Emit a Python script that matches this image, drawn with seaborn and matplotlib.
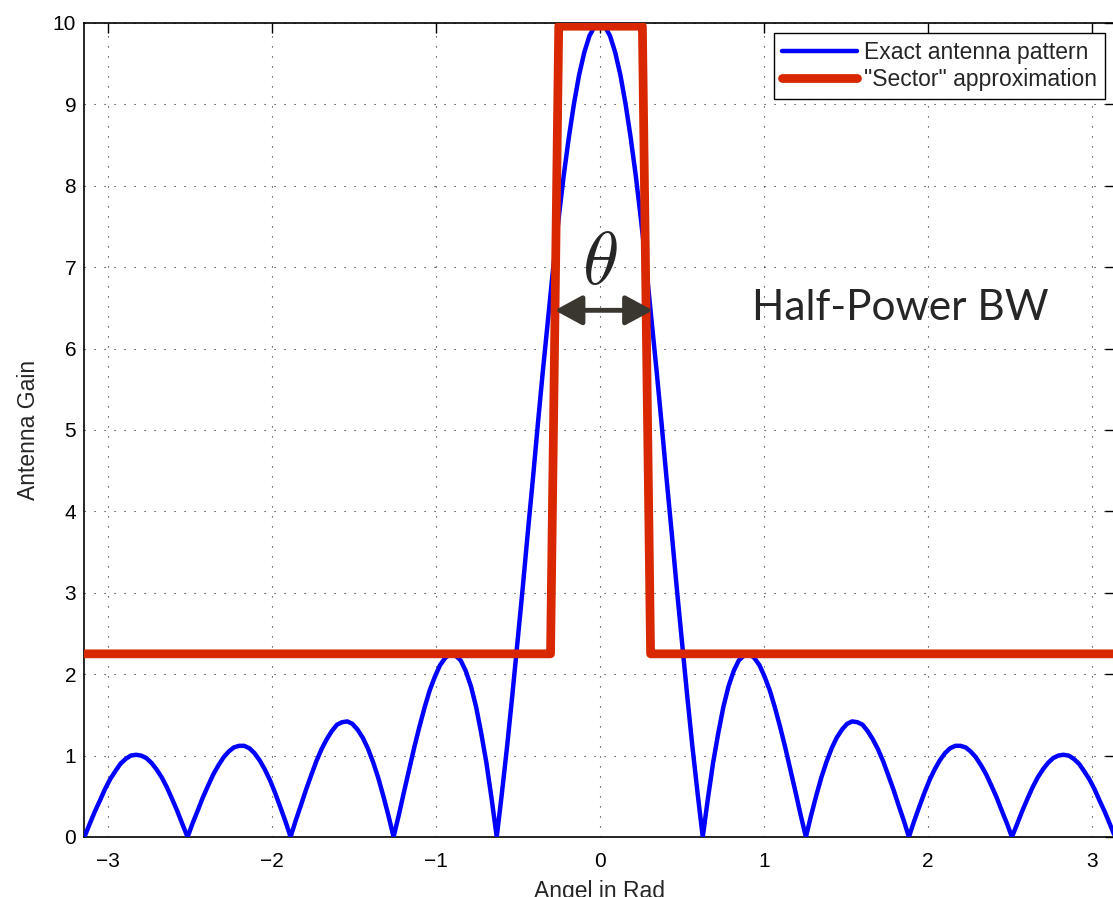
import numpy as np
import seaborn as sns
import matplotlib.pyplot as plt

# exact antenna pattern
angle = [-3.142, -3.110, -3.079, -3.047, -3.016, -2.985, -2.953, -2.922, -2.890, -2.859,
         -2.827, -2.796, -2.765, -2.733, -2.702, -2.670, -2.639, -2.608, -2.576, -2.545,
         -2.513, -2.482, -2.450, -2.419, -2.388, -2.356, -2.325, -2.293, -2.262, -2.231,
         -2.199, -2.168, -2.136, -2.105, -2.073, -2.042, -2.011, -1.979, -1.948, -1.916,
         -1.885, -1.854, -1.822, -1.791, -1.759, -1.728, -1.696, -1.665, -1.634, -1.602,
         -1.571, -1.539, -1.508, -1.477, -1.445, -1.414, -1.382, -1.351, -1.319, -1.288,
         -1.257, -1.225, -1.194, -1.162, -1.131, -1.100, -1.068, -1.037, -1.005, -0.974,
         -0.942, -0.911, -0.880, -0.848, -0.817, -0.785, -0.754, -0.723, -0.691, -0.660,
         -0.628, -0.597, -0.565, -0.534, -0.503, -0.471, -0.440, -0.408, -0.377, -0.346,
         -0.314, -0.283, -0.251, -0.220, -0.188, -0.157, -0.126, -0.094, -0.063, -0.031,
         0.000,
         0.031, 0.063, 0.094, 0.126, 0.157, 0.188, 0.220, 0.251, 0.283, 0.314,
         0.346, 0.377, 0.408, 0.440, 0.471, 0.503, 0.534, 0.565, 0.597, 0.628,
         0.660, 0.691, 0.723, 0.754, 0.785, 0.817, 0.848, 0.880, 0.911, 0.942,
         0.974, 1.005, 1.037, 1.068, 1.100, 1.131, 1.162, 1.194, 1.225, 1.257,
         1.288, 1.319, 1.351, 1.382, 1.414, 1.445, 1.477, 1.508, 1.539, 1.571,
         1.602, 1.634, 1.665, 1.696, 1.728, 1.759, 1.791, 1.822, 1.854, 1.885,
         1.916, 1.948, 1.979, 2.011, 2.042, 2.073, 2.105, 2.136, 2.168, 2.199,
         2.231, 2.262, 2.293, 2.325, 2.356, 2.388, 2.419, 2.450, 2.482, 2.513,
         2.545, 2.576, 2.608, 2.639, 2.670, 2.702, 2.733, 2.765, 2.796, 2.827,
         2.859, 2.890, 2.922, 2.953, 2.985, 3.016, 3.047, 3.079, 3.110, 3.142]
gain = [0.00, 0.16, 0.31, 0.45, 0.59, 0.71, 0.81, 0.90, 0.96, 1.00,
        1.01, 1.00, 0.97, 0.91, 0.83, 0.73, 0.61, 0.47, 0.32, 0.16,
        0.00, 0.17, 0.33, 0.49, 0.63, 0.77, 0.88, 0.98, 1.05, 1.10,
        1.12, 1.12, 1.09, 1.03, 0.94, 0.83, 0.70, 0.54, 0.37, 0.19,
        0.00, 0.20, 0.39, 0.58, 0.76, 0.93, 1.08, 1.20, 1.30, 1.38,
        1.41, 1.42, 1.39, 1.32, 1.22, 1.09, 0.92, 0.73, 0.50, 0.26,
        0.00, 0.27, 0.55, 0.83, 1.10, 1.35, 1.59, 1.80, 1.97, 2.11,
        2.20, 2.25, 2.23, 2.17, 2.04, 1.85, 1.60, 1.28, 0.91, 0.48,
        0.00, 0.53, 1.11, 1.72, 2.36, 3.03, 3.71, 4.39, 5.08, 5.74,
        6.39, 7.01, 7.59, 8.12, 8.60, 9.01, 9.36, 9.64, 9.84, 9.96,
        10.00,
        9.96, 9.84, 9.64, 9.36, 9.01, 8.60, 8.12, 7.59, 7.01, 6.39,
        5.74, 5.08, 4.39, 3.71, 3.03, 2.36, 1.72, 1.11, 0.53, 0.00,
        0.48, 0.91, 1.28, 1.60, 1.85, 2.04, 2.17, 2.23, 2.25, 2.20,
        2.11, 1.97, 1.80, 1.59, 1.35, 1.10, 0.83, 0.55, 0.27, 0.00,
        0.26, 0.50, 0.73, 0.92, 1.09, 1.22, 1.32, 1.39, 1.42, 1.41,
        1.38, 1.30, 1.20, 1.08, 0.93, 0.76, 0.58, 0.39, 0.20, 0.00,
        0.19, 0.37, 0.54, 0.70, 0.83, 0.94, 1.03, 1.09, 1.12, 1.12,
        1.10, 1.05, 0.98, 0.88, 0.77, 0.63, 0.49, 0.33, 0.17, 0.00,
        0.16, 0.32, 0.47, 0.61, 0.73, 0.83, 0.91, 0.97, 1.00, 1.01,
        1.00, 0.96, 0.90, 0.81, 0.71, 0.59, 0.45, 0.31, 0.16, 0.00]

# sector approximation
sector_angle = [-3.1416, -0.30, -0.25, 0.26, 0.31, 3.1416]
sector_gain = [2.25, 2.25, 9.96, 9.96, 2.25, 2.25]

x_ticks = [-3, -2, -1, 0, 1, 2, 3]
y_ticks = [0, 1, 2, 3, 4, 5, 6, 7, 8, 9, 10]
arrow_left, arrow_right, arrow_gain = -0.274, 0.323, 6.47

sns.set_style("white")
plt.rcParams['font.family'] = ['Liberation Sans', 'DejaVu Sans']
plt.rcParams['mathtext.fontset'] = 'cm'

fig = plt.figure(figsize=(11.13, 8.97), dpi=100)
ax = fig.add_axes([0.0759, 0.0669, 0.9259, 0.9075])

sns.lineplot(x=angle, y=gain, ax=ax, color='#0000ff', linewidth=3.2,
             sort=False, label='Exact antenna pattern', zorder=3)
sns.lineplot(x=sector_angle, y=sector_gain, ax=ax, color='#d92800', linewidth=6.3,
             sort=False, label='"Sector" approximation', zorder=4)

ax.set_xlim(-np.pi, np.pi)
ax.set_ylim(0, 10)
ax.set_xticks(x_ticks)
ax.set_yticks(y_ticks)
ax.tick_params(direction='in', length=7, width=1, top=True, right=True,
               labelsize=15, colors='black')
ax.tick_params(axis='x', pad=11)
ax.tick_params(axis='y', pad=6)
ax.grid(True, color='#222222', linestyle=(0, (1, 8)), linewidth=0.8)
for s in ax.spines.values():
    s.set_linewidth(1.2)
    s.set_color('black')
ax.set_xlabel('Angel in Rad', fontsize=16.5, labelpad=6)
ax.set_ylabel('Antenna Gain', fontsize=16.5, labelpad=9)

leg = ax.legend(loc='upper right', fontsize=16.5, frameon=True, fancybox=False,
                edgecolor='black', framealpha=1, borderaxespad=0.43,
                handlelength=3.3, handletextpad=0.3, labelspacing=0.2, borderpad=0.35)
leg.get_frame().set_linewidth(1.0)

ax.annotate('', xy=(arrow_right, arrow_gain), xytext=(arrow_left, arrow_gain),
            arrowprops=dict(arrowstyle='<|-|>,head_length=0.83,head_width=0.45',
                            mutation_scale=20, lw=3.5, color='#3a3630',
                            shrinkA=0, shrinkB=0), zorder=5)
ax.text(0.0, 7.03, r'$\theta$', fontsize=53, ha='center', va='center', zorder=5)
ax.text(1.83, 6.35, 'Half-Power BW', fontsize=30.5, family=['Lato', 'DejaVu Sans'],
        ha='center', va='baseline', zorder=5)

fig.savefig('out.png', dpi=100)
